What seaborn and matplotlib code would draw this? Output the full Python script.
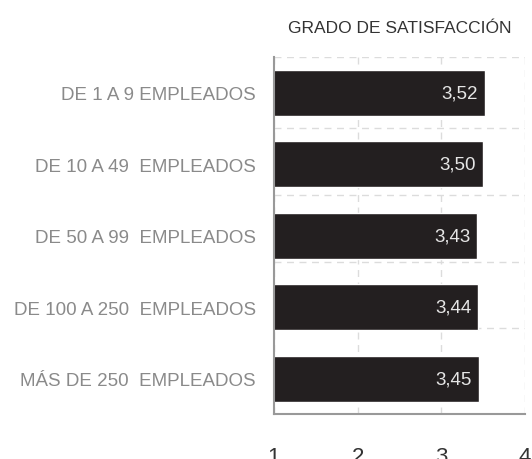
import matplotlib
matplotlib.use("Agg")
import matplotlib.pyplot as plt
import seaborn as sns
import pandas as pd

# ---- data ----
categories = ["DE 1 A 9 EMPLEADOS", "DE 10 A 49  EMPLEADOS", "DE 50 A 99  EMPLEADOS",
              "DE 100 A 250  EMPLEADOS", "MÁS DE 250  EMPLEADOS"]
values = [3.52, 3.50, 3.43, 3.44, 3.45]
value_labels = ["3,52", "3,50", "3,43", "3,44", "3,45"]
x_ticks = [1, 2, 3, 4]
title = "GRADO DE SATISFACCIÓN"

sns.set_theme(style="white")
plt.rcParams['font.family'] = ['Liberation Sans', 'DejaVu Sans']

df = pd.DataFrame({"cat": categories, "val": values})

fig = plt.figure(figsize=(5.32, 4.6), dpi=100)
ax = fig.add_axes([0.515, 0.0978, 0.4718, 0.7761])

sns.barplot(data=df, x="val", y="cat", orient="h", color="#231f20",
            saturation=1, width=0.643, ax=ax, zorder=3)

ax.set_xlim(1, 4)
ax.set_ylim(4.49, -0.5)
ax.set_xticks(x_ticks)
ax.set_xticklabels([str(t) for t in x_ticks], fontsize=16, color="#333333")
ax.set_xlabel("")
ax.set_ylabel("")
ax.tick_params(axis="y", length=0, pad=13, labelsize=13.5, labelcolor="#8a8a8a")
ax.tick_params(axis="x", direction="inout", length=26, width=1.5, color="#999999", pad=10)

# grid
grid_y = [-0.5, 0.49, 1.43, 2.37, 3.29]
ax.set_yticks(grid_y, minor=True)
ax.tick_params(axis="y", which="minor", length=0)
ax.grid(False)
ax.grid(axis="y", which="minor", color="#dcdcdc", linestyle=(0, (5, 4)), linewidth=1, zorder=0)
ax.grid(axis="x", which="major", color="#dcdcdc", linestyle=(0, (5, 4)), linewidth=1, zorder=0)

for s in ["top", "right"]:
    ax.spines[s].set_visible(False)
for s in ["left", "bottom"]:
    ax.spines[s].set_color("#999999")
    ax.spines[s].set_linewidth(1.5)
    ax.spines[s].set_zorder(4)

for i, (v, lab) in enumerate(zip(values, value_labels)):
    ax.annotate(lab, xy=(v, i), xytext=(-5, 0), textcoords="offset points",
                ha="right", va="center", color="#e6e6e6", fontsize=13.5, zorder=5)

fig.text(0.7513, 0.939, title, ha="center", va="center", fontsize=12.5, color="#333333")

fig.savefig("out.png", dpi=100)
